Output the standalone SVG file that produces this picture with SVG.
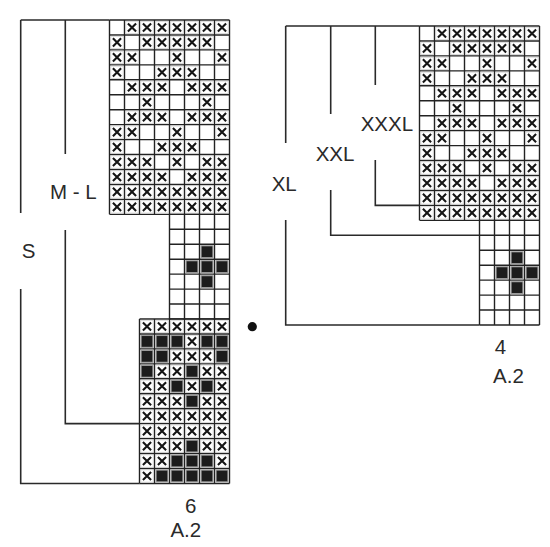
<svg xmlns="http://www.w3.org/2000/svg" xmlns:xlink="http://www.w3.org/1999/xlink" width="550" height="547" viewBox="0 0 550 547">
<style>
.grid{fill:none;stroke:#222;stroke-width:1.4}
.br{fill:none;stroke:#2a2a2a;stroke-width:1.6}
.lbl{font-family:"Liberation Sans",Arial,sans-serif;font-size:20.5px;fill:#2a2a2a}
.mid{text-anchor:middle}
.xf{fill:none;stroke:#cfcfcf;stroke-width:0.8}
.xl{fill:none;stroke:#151515;stroke-width:2.1}
.bk{fill:#1c1c1c;stroke:#9a9a9a;stroke-width:1}
</style>
<defs>
<g id="x"><rect class="xf" x="1.3" y="1.3" width="12.4" height="12.35"/><path class="xl" d="M3.4 3.4L11.6 11.55M11.6 3.4L3.4 11.55"/></g>
<g id="b"><rect class="bk" x="1.6" y="1.6" width="11.8" height="11.75"/></g>
<g id="topPattern">
<path class="grid" d="M0 0H120M0 14.95H120M0 29.9H120M0 44.85H120M0 59.8H120M0 74.75H120M0 89.7H120M0 104.65H120M0 119.6H120M0 134.55H120M0 149.5H120M0 164.45H120M0 179.4H120M0 194.35H120M0 0V194.35M15 0V194.35M30 0V194.35M45 0V194.35M60 0V194.35M75 0V194.35M90 0V194.35M105 0V194.35M120 0V194.35"/>
<use href="#x" x="15" y="0"/><use href="#x" x="30" y="0"/><use href="#x" x="45" y="0"/><use href="#x" x="60" y="0"/><use href="#x" x="75" y="0"/><use href="#x" x="90" y="0"/><use href="#x" x="105" y="0"/>
<use href="#x" x="0" y="14.95"/><use href="#x" x="30" y="14.95"/><use href="#x" x="45" y="14.95"/><use href="#x" x="60" y="14.95"/><use href="#x" x="75" y="14.95"/><use href="#x" x="90" y="14.95"/>
<use href="#x" x="0" y="29.9"/><use href="#x" x="15" y="29.9"/><use href="#x" x="60" y="29.9"/><use href="#x" x="105" y="29.9"/>
<use href="#x" x="0" y="44.85"/><use href="#x" x="45" y="44.85"/><use href="#x" x="60" y="44.85"/><use href="#x" x="75" y="44.85"/>
<use href="#x" x="15" y="59.8"/><use href="#x" x="30" y="59.8"/><use href="#x" x="45" y="59.8"/><use href="#x" x="75" y="59.8"/><use href="#x" x="90" y="59.8"/><use href="#x" x="105" y="59.8"/>
<use href="#x" x="30" y="74.75"/><use href="#x" x="90" y="74.75"/>
<use href="#x" x="15" y="89.7"/><use href="#x" x="30" y="89.7"/><use href="#x" x="45" y="89.7"/><use href="#x" x="75" y="89.7"/><use href="#x" x="90" y="89.7"/><use href="#x" x="105" y="89.7"/>
<use href="#x" x="0" y="104.65"/><use href="#x" x="15" y="104.65"/><use href="#x" x="60" y="104.65"/><use href="#x" x="105" y="104.65"/>
<use href="#x" x="0" y="119.6"/><use href="#x" x="45" y="119.6"/><use href="#x" x="60" y="119.6"/><use href="#x" x="75" y="119.6"/>
<use href="#x" x="0" y="134.55"/><use href="#x" x="15" y="134.55"/><use href="#x" x="30" y="134.55"/><use href="#x" x="60" y="134.55"/><use href="#x" x="90" y="134.55"/><use href="#x" x="105" y="134.55"/>
<use href="#x" x="0" y="149.5"/><use href="#x" x="15" y="149.5"/><use href="#x" x="30" y="149.5"/><use href="#x" x="45" y="149.5"/><use href="#x" x="75" y="149.5"/><use href="#x" x="90" y="149.5"/><use href="#x" x="105" y="149.5"/>
<use href="#x" x="0" y="164.45"/><use href="#x" x="15" y="164.45"/><use href="#x" x="30" y="164.45"/><use href="#x" x="45" y="164.45"/><use href="#x" x="60" y="164.45"/><use href="#x" x="75" y="164.45"/><use href="#x" x="90" y="164.45"/><use href="#x" x="105" y="164.45"/>
<use href="#x" x="0" y="179.4"/><use href="#x" x="15" y="179.4"/><use href="#x" x="30" y="179.4"/><use href="#x" x="45" y="179.4"/><use href="#x" x="60" y="179.4"/><use href="#x" x="75" y="179.4"/><use href="#x" x="90" y="179.4"/><use href="#x" x="105" y="179.4"/>
</g>
<g id="diamond">
<path class="grid" d="M0 0H60M0 14.95H60M0 29.9H60M0 44.85H60M0 59.8H60M0 74.75H60M0 89.7H60M0 104.65H60M0 0V104.65M15 0V104.65M30 0V104.65M45 0V104.65M60 0V104.65"/>
<use href="#b" x="30" y="29.9"/>
<use href="#b" x="15" y="44.85"/><use href="#b" x="30" y="44.85"/><use href="#b" x="45" y="44.85"/>
<use href="#b" x="30" y="59.8"/>
</g>
</defs>
<rect width="550" height="547" fill="#fff"/>

<g id="chart-left">
<use href="#topPattern" x="109.5" y="20"/>
<use href="#diamond" x="169.5" y="214.35"/>
<g id="left-bottom" transform="translate(139.5 319)">
<path class="grid" d="M0 0H90M0 14.95H90M0 29.9H90M0 44.85H90M0 59.8H90M0 74.75H90M0 89.7H90M0 104.65H90M0 119.6H90M0 134.55H90M0 149.5H90M0 164.45H90M0 0V164.45M15 0V164.45M30 0V164.45M45 0V164.45M60 0V164.45M75 0V164.45M90 0V164.45"/>
<use href="#x" x="0" y="0"/><use href="#x" x="15" y="0"/><use href="#x" x="30" y="0"/><use href="#x" x="45" y="0"/><use href="#x" x="60" y="0"/><use href="#x" x="75" y="0"/>
<use href="#b" x="0" y="14.95"/><use href="#b" x="15" y="14.95"/><use href="#b" x="30" y="14.95"/><use href="#x" x="45" y="14.95"/><use href="#b" x="60" y="14.95"/><use href="#b" x="75" y="14.95"/>
<use href="#b" x="0" y="29.9"/><use href="#b" x="15" y="29.9"/><use href="#x" x="30" y="29.9"/><use href="#x" x="45" y="29.9"/><use href="#x" x="60" y="29.9"/><use href="#b" x="75" y="29.9"/>
<use href="#b" x="0" y="44.85"/><use href="#x" x="15" y="44.85"/><use href="#x" x="30" y="44.85"/><use href="#b" x="45" y="44.85"/><use href="#x" x="60" y="44.85"/><use href="#x" x="75" y="44.85"/>
<use href="#x" x="0" y="59.8"/><use href="#x" x="15" y="59.8"/><use href="#b" x="30" y="59.8"/><use href="#x" x="45" y="59.8"/><use href="#b" x="60" y="59.8"/><use href="#x" x="75" y="59.8"/>
<use href="#x" x="0" y="74.75"/><use href="#x" x="15" y="74.75"/><use href="#x" x="30" y="74.75"/><use href="#b" x="45" y="74.75"/><use href="#x" x="60" y="74.75"/><use href="#x" x="75" y="74.75"/>
<use href="#x" x="0" y="89.7"/><use href="#x" x="15" y="89.7"/><use href="#x" x="30" y="89.7"/><use href="#x" x="45" y="89.7"/><use href="#x" x="60" y="89.7"/><use href="#x" x="75" y="89.7"/>
<use href="#x" x="0" y="104.65"/><use href="#x" x="15" y="104.65"/><use href="#x" x="30" y="104.65"/><use href="#x" x="45" y="104.65"/><use href="#x" x="60" y="104.65"/><use href="#x" x="75" y="104.65"/>
<use href="#x" x="0" y="119.6"/><use href="#x" x="15" y="119.6"/><use href="#x" x="30" y="119.6"/><use href="#b" x="45" y="119.6"/><use href="#x" x="60" y="119.6"/><use href="#x" x="75" y="119.6"/>
<use href="#x" x="0" y="134.55"/><use href="#x" x="15" y="134.55"/><use href="#b" x="30" y="134.55"/><use href="#b" x="45" y="134.55"/><use href="#b" x="60" y="134.55"/><use href="#x" x="75" y="134.55"/>
<use href="#x" x="0" y="149.5"/><use href="#b" x="15" y="149.5"/><use href="#b" x="30" y="149.5"/><use href="#b" x="45" y="149.5"/><use href="#b" x="60" y="149.5"/><use href="#b" x="75" y="149.5"/>
</g>
</g>

<g id="chart-right">
<use href="#topPattern" x="419.5" y="26"/>
<use href="#diamond" x="479.5" y="220.35"/>
</g>

<g id="connectors">
<path class="br" d="M20.7 20H109.5M20.7 20V213M20.7 289V483.45H139.5M65.3 20V154M65.3 230V423.65H139.5"/>
<path class="br" d="M285.7 26H419.5M285.7 26V143M285.7 220V325H479.5M330.7 26V114M330.7 190V235.3H479.5M375.3 26V85M375.3 160V205.4H419.5"/>
</g>

<g id="labels">
<text class="lbl" x="21.7" y="258.3">S</text>
<text class="lbl" x="50" y="199">M - L</text>
<text class="lbl" x="271.7" y="191">XL</text>
<text class="lbl" x="315.7" y="160.7">XXL</text>
<text class="lbl" x="360.7" y="130.7">XXXL</text>
<text class="lbl mid" x="190.8" y="512.7">6</text>
<text class="lbl mid" x="185.8" y="536.7">A.2</text>
<text class="lbl mid" x="500.5" y="354.3">4</text>
<text class="lbl mid" x="508.5" y="383.3">A.2</text>
</g>
<circle id="dot" cx="252.3" cy="326.7" r="4.6" fill="#111"/>
</svg>
